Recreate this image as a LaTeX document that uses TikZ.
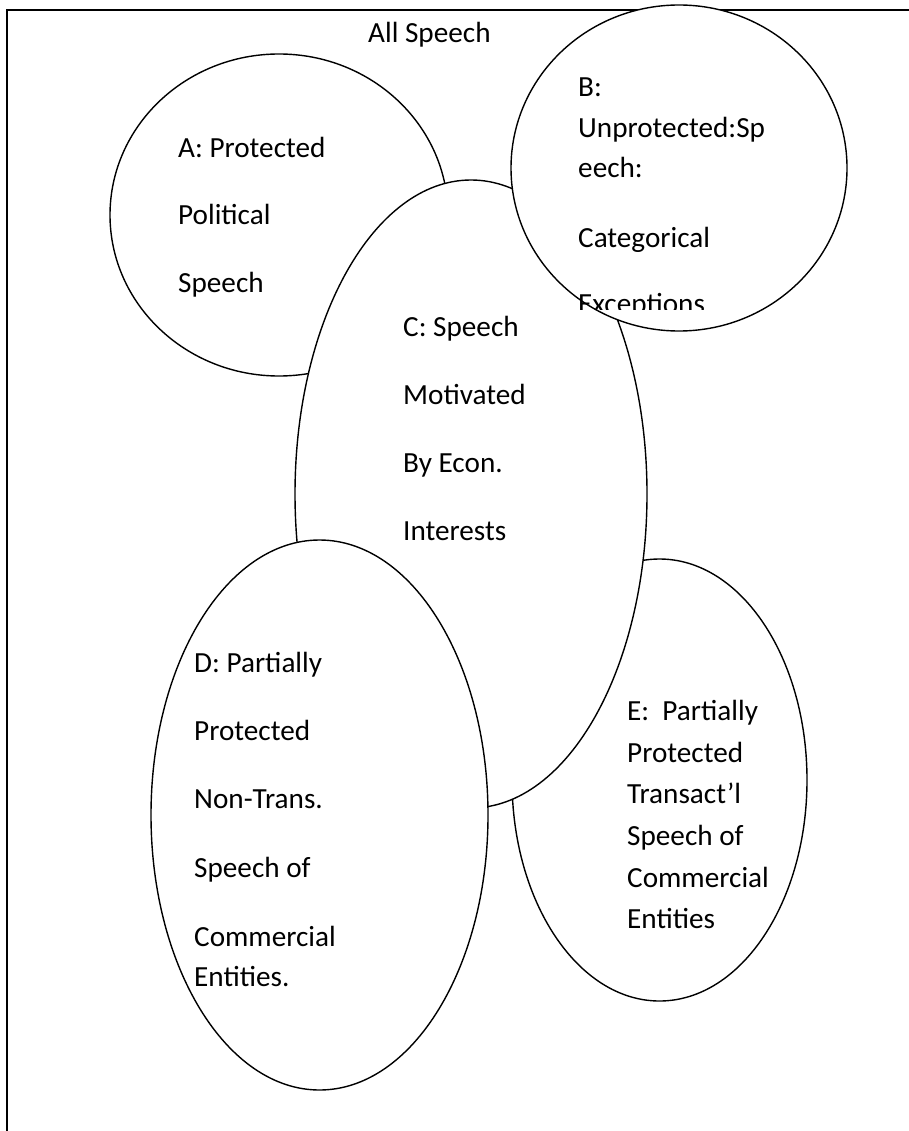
\documentclass[tikz,border=0pt]{standalone}
\usepackage{fontspec}
\setmainfont{Carlito}
\usetikzlibrary{shapes.geometric}
\begin{document}
\begin{tikzpicture}[x=1pt,y=-1pt,
  region/.style={ellipse, draw=black, fill=white, line width=1.4pt, inner sep=0pt},
  lbl/.style={anchor=base west, inner sep=0pt, font=\fontsize{29.2}{35}\selectfont},
  frameline/.style={line width=2.2pt}]
\useasboundingbox (0,0) rectangle (908,1131);
% outer frame (only left and top sides visible)
\coordinate (fbl) at (7,1150);
\coordinate (ftl) at (7,10);
\coordinate (ftr) at (930,10);
\draw[frameline] (fbl) -- (ftl) -- (ftr);
\node[lbl] (title) at (368,43) {All Speech};
% A
\node[region, minimum width=338pt, minimum height=322pt] (A) at (279,215) {};
\node[lbl] (a1) at (178,158) {A: Protected};
\node[lbl] (a2) at (178,225) {Political};
\node[lbl] (a3) at (178,292) {Speech};
% E
\node[region, minimum width=295pt, minimum height=442pt] (E) at (659.5,780) {};
\node[lbl] (e1) at (627,720) {E:\ \ Partially};
\node[lbl] (e2) at (627,762) {Protected};
\node[lbl] (e3) at (627,803) {Transact’l};
\node[lbl] (e4) at (627,845) {Speech of};
\node[lbl] (e5) at (627,887) {Commercial};
\node[lbl] (e6) at (627,928) {Entities};
% C
\node[region, minimum width=352pt, minimum height=628pt] (C) at (471,494) {};
\node[lbl] (c1) at (403,336) {C: Speech};
\node[lbl] (c2) at (403,404) {Motivated};
\node[lbl] (c3) at (403,472) {By Econ.};
\node[lbl] (c4) at (403,540) {Interests};
% B
\node[region, minimum width=336pt, minimum height=326pt] (B) at (679,168) {};
\begin{scope}
  \clip (560,0) rectangle (870,309);
  \node[lbl] (b1) at (578,97) {B:};
  \node[lbl] (b2) at (578,138) {Unprotected:Sp};
  \node[lbl] (b3) at (578,178) {eech:};
  \node[lbl] (b4) at (578,248) {Categorical};
  \node[lbl] (b5) at (578,313) {Exceptions};
\end{scope}
% D
\node[region, minimum width=337pt, minimum height=550pt] (D) at (319.5,815) {};
\node[lbl] (d1) at (194,672) {D: Partially};
\node[lbl] (d2) at (194,740) {Protected};
\node[lbl] (d3) at (194,808) {Non-Trans.};
\node[lbl] (d4) at (194,877) {Speech of};
\node[lbl] (d5) at (194,946) {Commercial};
\node[lbl] (d6) at (194,986) {Entities.};
\end{tikzpicture}
\end{document}
